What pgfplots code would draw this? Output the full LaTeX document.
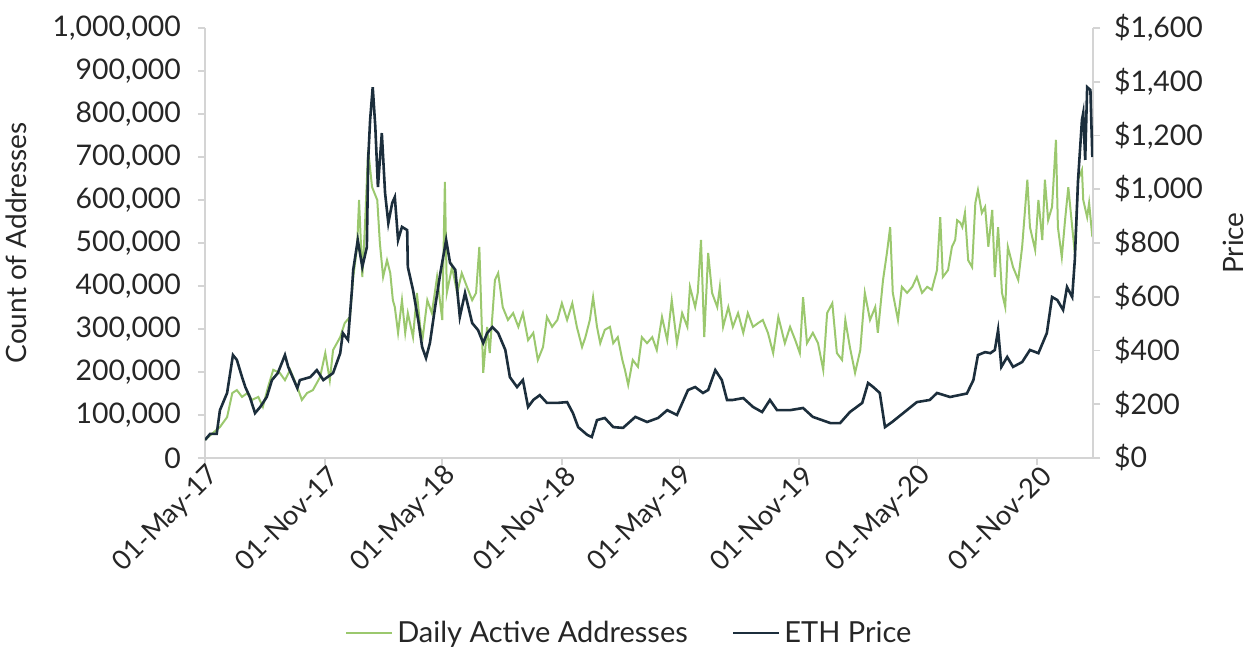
\documentclass[border=0pt]{standalone}
\usepackage{pgfplots}
\pgfplotsset{compat=1.18}
\usepackage{fontspec}
\setmainfont{Lato}
\definecolor{daagreen}{RGB}{155,200,110}
\definecolor{ethnavy}{RGB}{28,46,60}
\definecolor{axgray}{RGB}{212,212,212}
\definecolor{txt}{RGB}{38,38,38}
\begin{document}
\begin{tikzpicture}
\pgfplotsset{
  base/.style={
    scale only axis, width=444pt, height=215pt,
    xmin=0, xmax=1366,
    tick align=outside, major tick length=3.5pt,
    every tick/.style={axgray, line width=0.9pt},
    axis line style={axgray, line width=1pt},
    tick label style={font=\fontsize{14.2}{17}\selectfont, text=txt},
    label style={font=\fontsize{14}{17}\selectfont, text=txt},
    /pgf/number format/assume math mode=true,
  }
}
\begin{axis}[base, name=a,
  axis x line*=bottom, axis y line*=left,
  ymin=0, ymax=1000,
  ytick={0,100,200,300,400,500,600,700,800,900,1000},
  yticklabels={0,{100,000},{200,000},{300,000},{400,000},{500,000},{600,000},{700,000},{800,000},{900,000},{1,000,000}},
  yticklabel style={xshift=-5pt},
  xtick={0,184,365,549,730,914,1096,1280},
  xticklabels={01-May-17,01-Nov-17,01-May-18,01-Nov-18,01-May-19,01-Nov-19,01-May-20,01-Nov-20},
  xticklabel style={rotate=45, anchor=east, xshift=4.5pt, yshift=-5.5pt, font=\fontsize{13.6}{16}\selectfont},
  ylabel={Count of Addresses},
  ylabel style={at={(axis description cs:-0.212,0.5)}, anchor=center},
  legend style={at={(axis description cs:0.479,-0.407)}, anchor=center, draw=none, fill=none,
    font=\fontsize{14.5}{17}\selectfont, text=txt, legend columns=2,
    /tikz/every even column/.append style={column sep=20pt}},
  legend image code/.code={\draw[#1] (0pt,0pt) -- (23pt,0pt);},
]
\addplot[daagreen, line width=1pt] coordinates {
(0,42)(12,58)(23,72)(34,95)(42,151)(49,158)(57,142)(65,151)(72,135)(82,142)(89,119)(97,165)
(105,205)(115,198)(123,181)(131,205)(142,165)(149,135)(157,151)(166,158)(177,188)(185,244)
(192,181)(197,251)(208,281)(215,314)(223,328)(228,421)(234,491)(237,600)(242,421)(246,537)
(251,716)(257,630)(265,600)(269,500)(274,421)(280,460)(285,430)(289,367)(292,351)(297,291)
(303,367)(308,291)(312,337)(320,281)(326,384)(331,305)(335,281)(342,367)(349,337)(357,421)
(365,321)(369,642)(372,384)(380,444)(388,384)(395,430)(403,398)(411,367)(417,384)(422,491)
(428,198)(434,305)(438,244)(446,414)(451,430)(458,351)(466,321)(474,337)(482,305)(489,337)
(497,274)(505,291)(512,228)(520,258)(526,328)(534,305)(542,321)(549,360)(557,321)(565,360)
(572,305)(580,258)(585,280)(592,321)(597,374)(603,305)(608,267)(615,298)(623,305)(628,267)
(635,281)(642,228)(646,205)(651,170)(658,228)(666,212)(672,281)(680,267)(688,281)(695,251)
(703,328)(711,274)(718,367)(726,267)(734,337)(742,305)(746,398)(754,351)(758,384)(763,507)
(768,281)(774,477)(780,384)(788,351)(792,398)(797,305)(805,351)(812,305)(820,337)(828,291)
(835,337)(843,305)(851,314)(858,321)(866,291)(874,244)(882,328)(892,267)(900,305)(908,274)
(915,244)(920,374)(926,267)(935,291)(943,267)(951,205)(957,337)(965,360)(972,244)(980,228)
(985,321)(992,258)(1000,198)(1008,251)(1015,384)(1023,321)(1031,351)(1035,291)(1043,414)
(1049,477)(1054,537)(1058,384)(1066,321)(1072,398)(1080,384)(1088,398)(1095,421)(1103,384)
(1111,398)(1118,391)(1126,437)(1131,560)(1135,421)(1143,437)(1149,491)(1154,507)(1157,553)
(1162,547)(1165,537)(1169,570)(1174,460)(1180,444)(1185,593)(1189,623)(1195,570)(1200,584)
(1205,491)(1211,577)(1215,421)(1220,537)(1226,384)(1231,351)(1235,491)(1243,444)(1251,414)
(1257,491)(1265,647)(1269,537)(1277,484)(1282,600)(1288,507)(1292,647)(1297,553)(1303,584)
(1309,740)(1312,537)(1318,467)(1323,553)(1328,630)(1334,537)(1338,477)(1343,647)(1349,670)
(1351,600)(1357,560)(1360,593)(1365,514)
};
\addlegendentry{Daily Active Addresses}
\addlegendimage{ethnavy, line width=1.3pt}
\addlegendentry{ETH Price}
\end{axis}
\begin{axis}[base,
  axis y line*=right, axis x line=none,
  ymin=0, ymax=1600,
  ytick={0,200,400,600,800,1000,1200,1400,1600},
  yticklabels={\$0,\$200,\$400,\$600,\$800,{\$1,000},{\$1,200},{\$1,400},{\$1,600}},
  yticklabel style={xshift=3.5pt},
  ylabel={Price},
  ylabel style={at={(axis description cs:1.158,0.5)}, anchor=center},
]
\addplot[ethnavy, line width=1.3pt] coordinates {
(0,67)(8,90)(18,90)(23,178)(34,242)(43,383)(49,365)(57,301)(62,264)(69,227)(77,167)(85,190)
(95,227)(103,290)(112,316)(123,383)(128,339)(142,260)(146,290)(162,301)(172,327)(182,290)
(197,316)(208,390)(212,465)(220,439)(226,625)(228,700)(235,811)(242,711)(249,785)(251,1109)
(254,1258)(258,1380)(262,1232)(266,1008)(272,1209)(277,986)(282,874)(288,949)(292,971)
(297,811)(303,860)(311,848)(312,711)(320,625)(328,513)(334,413)(340,372)(346,428)(354,562)
(362,688)(371,811)(377,726)(385,700)(392,525)(400,614)(411,502)(420,476)(428,428)(434,465)
(442,487)(451,465)(462,402)(469,301)(480,264)(489,290)(497,190)(505,216)(515,234)(526,205)
(542,205)(557,208)(566,167)(574,115)(588,86)(595,78)(603,141)(615,149)(628,115)(643,112)
(662,153)(680,134)(697,149)(711,178)(726,160)(743,253)(754,264)(766,242)(774,253)(785,327)
(795,290)(803,216)(812,216)(828,223)(843,190)(857,171)(869,216)(880,178)(900,178)(920,186)
(935,153)(962,130)(977,130)(992,171)(1011,205)(1020,279)(1028,264)(1038,242)(1046,115)
(1057,134)(1074,167)(1095,208)(1115,216)(1126,242)(1146,227)(1172,240)(1182,290)(1189,383)
(1200,394)(1208,390)(1215,402)(1220,476)(1225,339)(1234,376)(1243,339)(1257,357)(1269,402)
(1282,390)(1295,465)(1303,599)(1311,588)(1320,551)(1326,636)(1334,599)(1338,737)(1343,1034)
(1349,1258)(1351,1284)(1354,1109)(1357,1380)(1362,1369)(1365,1120)
};
\end{axis}
\pgfresetboundingbox
\path ([xshift=-102.5pt,yshift=-95pt]a.south west) rectangle ([xshift=77pt,yshift=14pt]a.north east);
\end{tikzpicture}
\end{document}
